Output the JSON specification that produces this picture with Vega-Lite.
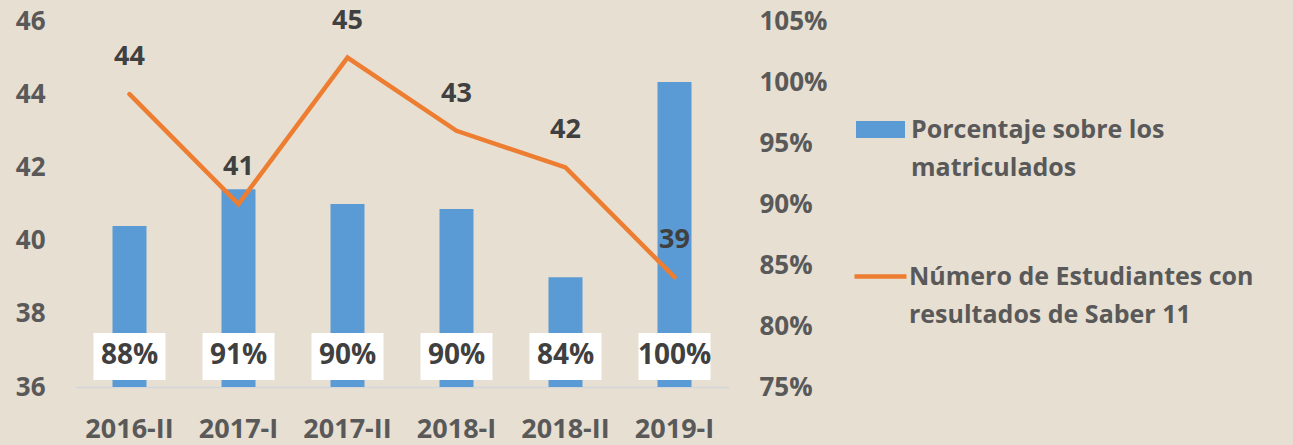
{
  "$schema": "https://vega.github.io/schema/vega-lite/v6.json",
  "autosize": {"type": "none"},
  "width": 654,
  "height": 366,
  "padding": {"left": 75, "top": 21, "right": 564, "bottom": 58},
  "background": "#e7dfd2",
  "config": {
    "view": {"stroke": null},
    "font": "Open Sans",
    "style": {"guide-label": {"lineHeight": 38}},
    "axis": {"labelFont": "Open Sans", "labelFontWeight": "bold", "labelColor": "#595959", "grid": false, "ticks": false, "domain": false, "title": null}
  },
  "data": {
    "values": [
      {"periodo": "2016-II", "estudiantes": 44, "pct": 0.882, "pctLabel": "88%"},
      {"periodo": "2017-I", "estudiantes": 41, "pct": 0.912, "pctLabel": "91%"},
      {"periodo": "2017-II", "estudiantes": 45, "pct": 0.900, "pctLabel": "90%"},
      {"periodo": "2018-I", "estudiantes": 43, "pct": 0.896, "pctLabel": "90%"},
      {"periodo": "2018-II", "estudiantes": 42, "pct": 0.840, "pctLabel": "84%"},
      {"periodo": "2019-I", "estudiantes": 39, "pct": 1.0, "pctLabel": "100%"}
    ]
  },
  "encoding": {
    "x": {
      "field": "periodo", "type": "nominal", "sort": null,
      "scale": {"paddingInner": 0, "paddingOuter": 0},
      "axis": {"labelAngle": 0, "labelFontSize": 27, "labelPadding": 29, "domain": true, "domainColor": "#d3d6da", "domainWidth": 1.5}
    }
  },
  "layer": [
    {
      "layer": [
        {
          "mark": {"type": "bar", "width": 34},
          "encoding": {
            "y": {"field": "pct", "type": "quantitative", "scale": {"domain": [0.75, 1.05], "nice": false, "zero": false},
              "axis": {"orient": "right", "format": ".0%", "values": [0.75, 0.8, 0.85, 0.9, 0.95, 1.0, 1.05], "labelFontSize": 26, "labelPadding": 30}},
            "y2": {"datum": 0.75},
            "fill": {"datum": "Porcentaje sobre los matriculados", "type": "nominal",
              "scale": {"range": ["#5b9bd5"]},
              "legend": {"orient": "none", "legendX": 781, "legendY": 84, "title": null,
                "labelExpr": "['Porcentaje sobre los', 'matriculados']",
                "labelFontSize": 25, "labelFont": "Open Sans", "labelFontWeight": "bold", "labelColor": "#595959",
                "labelBaseline": "middle", "labelLimit": 500, "labelOffset": 6,
                "symbolType": "M-1,-0.347H1V0.347H-1Z", "symbolSize": 2401, "symbolStrokeWidth": 0}}
          }
        },
        {
          "mark": {"type": "rect", "width": 72, "color": "white"},
          "encoding": {
            "y": {"datum": 0.7557, "type": "quantitative"},
            "y2": {"datum": 0.7943}
          }
        },
        {
          "mark": {"type": "text", "fontSize": 28, "fontWeight": "bold", "color": "#404040", "baseline": "middle", "font": "Open Sans"},
          "encoding": {
            "y": {"datum": 0.7755, "type": "quantitative"},
            "text": {"field": "pctLabel"}
          }
        }
      ]
    },
    {
      "layer": [
        {
          "mark": {"type": "line", "strokeWidth": 4.5, "strokeCap": "round"},
          "encoding": {
            "y": {"field": "estudiantes", "type": "quantitative", "scale": {"domain": [36, 46], "nice": false, "zero": false},
              "axis": {"orient": "left", "values": [36, 38, 40, 42, 44, 46], "labelFontSize": 26, "labelPadding": 30}},
            "stroke": {"datum": "Número de Estudiantes con resultados de Saber 11", "type": "nominal",
              "scale": {"range": ["#ed7d31"]},
              "legend": {"orient": "none", "legendX": 777, "legendY": 227, "title": null,
                "labelExpr": "['Número de Estudiantes con', 'resultados de Saber 11']",
                "labelFontSize": 25, "labelFont": "Open Sans", "labelFontWeight": "bold", "labelColor": "#595959",
                "labelBaseline": "middle", "labelLimit": 600, "labelOffset": 0,
                "symbolType": "M-1,0H1", "symbolSize": 2704, "symbolStrokeWidth": 4.5, "symbolFillColor": "transparent"}}
          }
        },
        {
          "mark": {"type": "text", "fontSize": 27, "fontWeight": "bold", "color": "#404040", "baseline": "middle", "dy": -37, "font": "Open Sans"},
          "encoding": {
            "y": {"field": "estudiantes", "type": "quantitative"},
            "text": {"field": "estudiantes"}
          }
        }
      ]
    }
  ],
  "resolve": {"scale": {"y": "independent"}}
}
